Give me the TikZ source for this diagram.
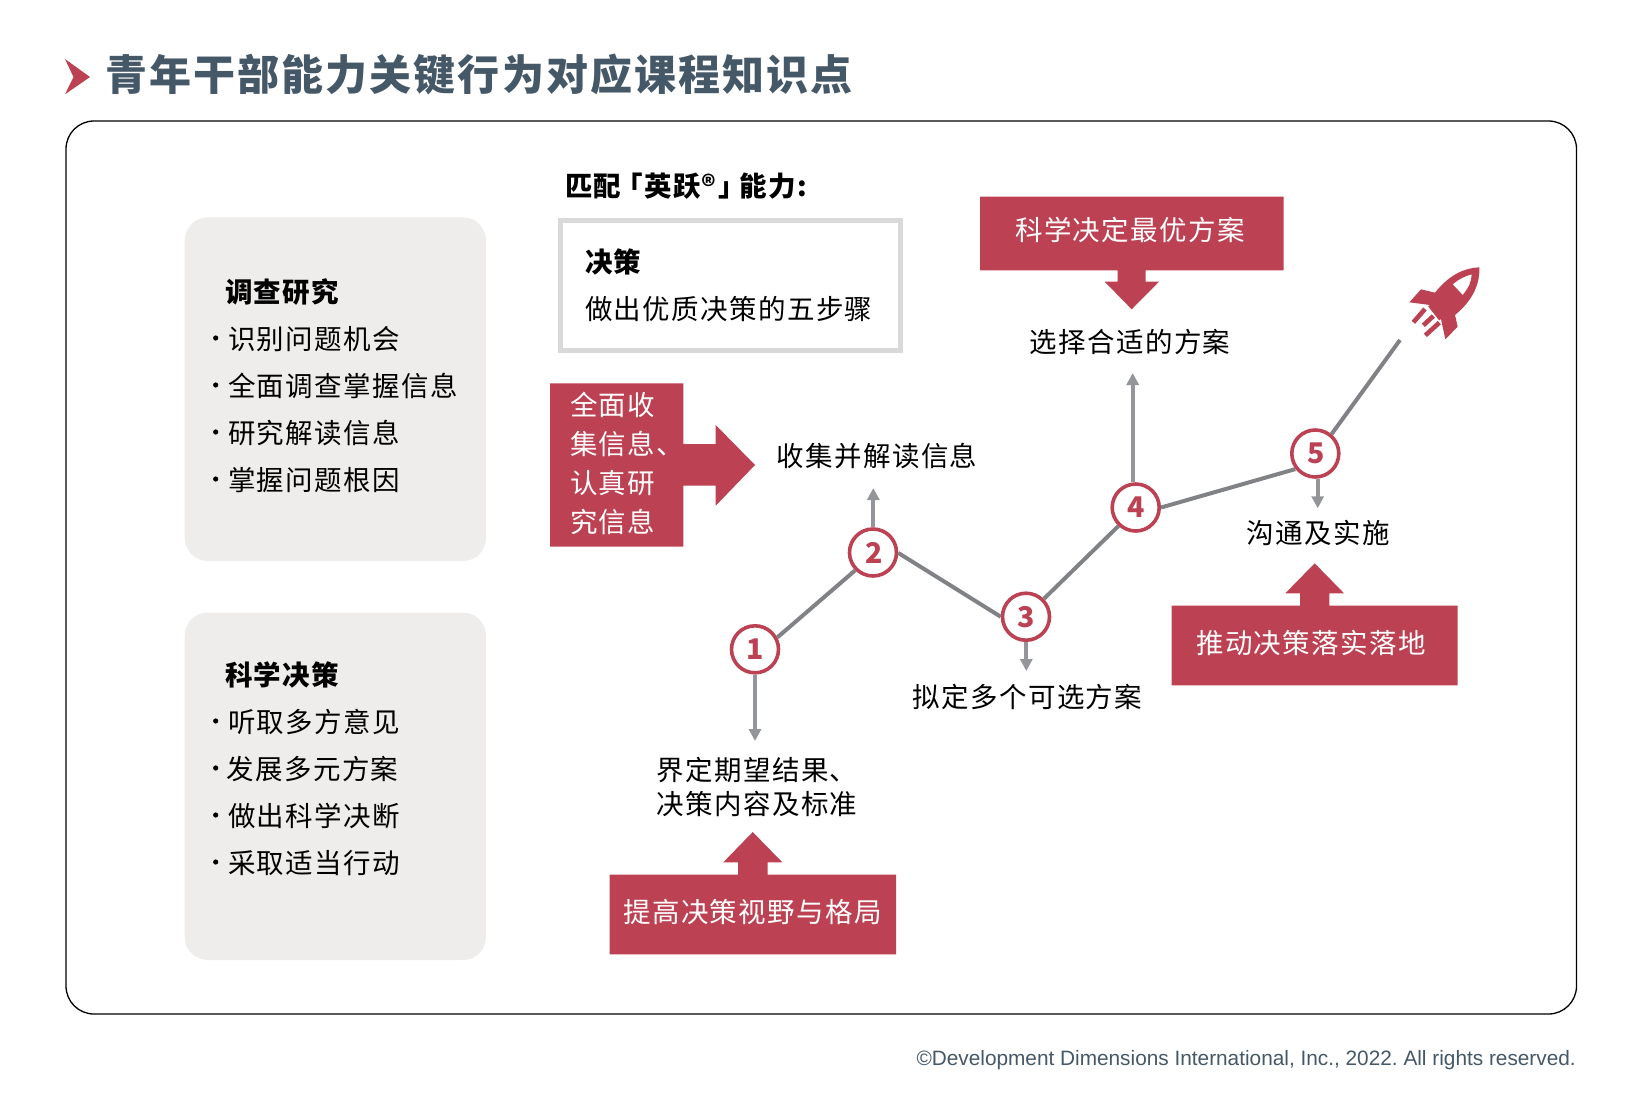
\documentclass[tikz,border=0pt]{standalone}
\usepackage{fontspec}
\usetikzlibrary{arrows.meta}
\newfontfamily\cjk[LetterSpace=5]{Noto Sans CJK SC}
\newfontfamily\cjknum{Noto Sans CJK SC}
\newfontfamily\latinf{Liberation Sans}
\definecolor{ddired}{HTML}{BC4152}
\definecolor{ddigray}{HTML}{808285}
\definecolor{ddipoint}{HTML}{939598}
\definecolor{ddislate}{HTML}{455868}
\definecolor{ddipanel}{HTML}{EEEDEB}
\definecolor{ddiedge}{HTML}{D9D9D9}
\tikzset{
  txt/.style={inner sep=0pt,outer sep=0pt,text height=24.2pt,text depth=3.3pt,font=\cjk\fontsize{27.5}{34}\selectfont,text=black},
  head/.style={txt,font=\cjk\bfseries\fontsize{27.5}{34}\selectfont},
  ontxt/.style={txt,text=white},
  redshape/.style={fill=ddired,draw=none},
  panel/.style={fill=ddipanel,draw=none,rounded corners=23pt},
  stage/.style={circle,draw=ddired,fill=white,line width=3.6pt,minimum size=47pt,inner sep=0pt,text=ddired,font=\cjknum\bfseries\fontsize{28.5}{30}\selectfont},
  link/.style={draw=ddigray,line width=4pt},
  pointer/.style={draw=ddipoint,line width=4pt,-{Triangle[width=12pt,length=12pt]}},
}
\begin{document}
\begin{tikzpicture}[x=1pt,y=-1pt]
\useasboundingbox (0,0) rectangle (1636,1112);
% title
\fill[ddired] (65,59) -- (90,77) -- (65,94.3) -- (73.5,77) -- cycle;
\node[anchor=west,inner sep=0pt,text=ddislate,font=\cjk\bfseries\fontsize{42}{48}\selectfont,text height=37pt,text depth=5pt] (title) at (105,74.5) {青年干部能力关键行为对应课程知识点};
% frame
\draw[black,line width=1.3pt,rounded corners=28pt] (66,121) rectangle (1576.5,1014);
% panels
\fill[panel] (184.7,217.3) rectangle (486,561);
\fill[panel] (184.7,612.5) rectangle (486,960);
% panel 1
\node[head,anchor=west] (h1) at (225,291.7) {调查研究};
\node[txt,anchor=west] (i11) at (228,339) {识别问题机会};
\node[txt,anchor=west] (i12) at (228,386) {全面调查掌握信息};
\node[txt,anchor=west] (i13) at (228,433) {研究解读信息};
\node[txt,anchor=west] (i14) at (228,480) {掌握问题根因};
\foreach \yy in {339,386,433,480} \fill[black] (215.7,\yy-1) circle (2.6pt);
% panel 2
\node[head,anchor=west] (h2) at (225,675) {科学决策};
\node[txt,anchor=west] (i21) at (228,722) {听取多方意见};
\node[txt,anchor=west] (i22) at (226.5,769) {发展多元方案};
\node[txt,anchor=west] (i23) at (228,816) {做出科学决断};
\node[txt,anchor=west] (i24) at (228,863) {采取适当行动};
\foreach \yy in {722,769,816,863} \fill[black] (215.7,\yy-1) circle (2.6pt);
% DDI box
\node[head,anchor=west] (match) at (565,186) {匹配\kern-6pt「英跃®」\kern-6pt能力:};
\draw[ddiedge,line width=4.5pt] (560.5,220.5) rectangle (900.5,350.5);
\node[head,anchor=west] (dec) at (585,261.7) {决策};
\node[txt,anchor=west] (decsub) at (585,309) {做出优质决策的五步骤};
% red callouts
\fill[redshape] (980,196.7) -- (1283.7,196.7) -- (1283.7,270.3) -- (1145.7,270.3) -- (1145.7,281.7) -- (1159,281.7) -- (1131.7,309.3) -- (1104.7,281.7) -- (1117.7,281.7) -- (1117.7,270.3) -- (980,270.3) -- cycle;
\node[ontxt] (t4) at (1130,229.8) {科学决定最优方案};
\fill[redshape] (550,383.3) -- (683.3,383.3) -- (683.3,444) -- (715.7,444) -- (715.7,425) -- (755,465) -- (715.7,505.7) -- (715.7,485.7) -- (683.3,485.7) -- (683.3,546.7) -- (550,546.7) -- cycle;
\node[ontxt,anchor=west,align=left,text height=,text depth=,font=\cjk\fontsize{27.5}{39}\selectfont] (t2) at (570,463) {全面收\\集信息、\\认真研\\究信息};
\fill[redshape] (1171.7,605.7) -- (1300,605.7) -- (1300,593.3) -- (1285.3,593.3) -- (1314.7,563.3) -- (1344,593.3) -- (1329.3,593.3) -- (1329.3,605.7) -- (1457.7,605.7) -- (1457.7,685.3) -- (1171.7,685.3) -- cycle;
\node[ontxt] (t5) at (1311,642.7) {推动决策落实落地};
\fill[redshape] (609.7,874.7) -- (738,874.7) -- (738,862.3) -- (723.3,862.3) -- (752.7,832) -- (782.3,862.3) -- (767.7,862.3) -- (767.7,874.7) -- (896,874.7) -- (896,954.3) -- (609.7,954.3) -- cycle;
\node[ontxt] (t1) at (752.5,911.7) {提高决策视野与格局};
% step labels
\node[txt] (l2) at (877,456) {收集并解读信息};
\node[txt] (l3) at (1027.5,697) {拟定多个可选方案};
\node[txt] (l4) at (1130,342.5) {选择合适的方案};
\node[txt] (l5) at (1318,533.5) {沟通及实施};
\node[txt,align=left,text height=,text depth=] (l1) at (757,786.5) {界定期望结果、\\决策内容及标准};
% stages
\node[stage] (c1) at (755,649.3) {\kern1pt 1};
\node[stage] (c2) at (873,552.5) {\kern1.5pt 2};
\node[stage] (c3) at (1026,616.7) {\kern.5pt 3};
\node[stage] (c4) at (1135.7,507.5) {4};
\node[stage] (c5) at (1315.3,453.5) {\kern1.5pt 5};
\coordinate (a1) at (755,741);
\coordinate (a2) at (873.3,488);
\coordinate (a3) at (1026.3,671);
\coordinate (a4) at (1132.7,373);
\coordinate (a5) at (1317.7,508.3);
\coordinate (rk) at (1400,340);
\draw[link] (c1.28) -- (c2.225);
\draw[link] (c2.-1) -- (c3.180);
\draw[link] (c3.45) -- (c4.227);
\draw[link] (c4.0) -- (c5.218);
\draw[link] (c5.50) -- (rk);
\draw[pointer] (c1.south -| a1) -- (a1);
\draw[pointer] (c2.north -| a2) -- (a2);
\draw[pointer] (c3.south -| a3) -- (a3);
\draw[pointer] (c4.north -| a4) -- (a4);
\draw[pointer] (c5.south -| a5) -- (a5);
% rocket
\begin{scope}[shift={(1380,250)},x=0.3333pt,y=-0.3333pt]
\fill[ddired,even odd rule]
  (298,52) .. controls (300,100) and (280,150) .. (225,195)
  -- (233,230) -- (196,268) -- (183,207) -- (150,165) -- (88,157) -- (123,118) -- (165,128)
  .. controls (200,85) and (240,55) .. (298,52) -- cycle
  (218,103) .. controls (235,88) and (255,78) .. (275,73) .. controls (275,95) and (265,115) .. (248,135) -- cycle;
\draw[ddired,line width=4.6pt] (135,177) -- (100,217);
\draw[ddired,line width=4.6pt] (160,198) -- (130,226);
\draw[ddired,line width=4.6pt] (178,218) -- (136,256);
\draw[ddired,line width=4.6pt] (150,165) -- (183,207);
\end{scope}
% footer
\node[anchor=east,inner sep=0pt,text=ddislate,font=\latinf\fontsize{20.8}{25}\selectfont\frenchspacing] (copy) at (1576,1060) {©Development Dimensions International, Inc., 2022. All rights reserved.};
\end{tikzpicture}
\end{document}
